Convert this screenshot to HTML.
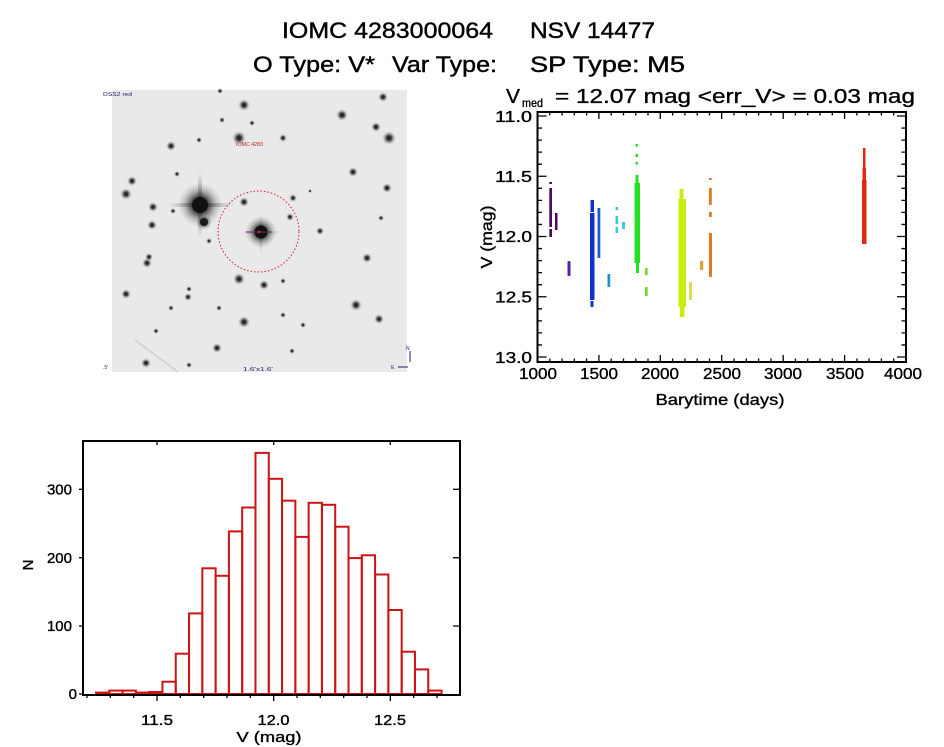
<!DOCTYPE html>
<html><head><meta charset="utf-8"><style>
html,body{margin:0;padding:0;background:#fff;}
svg{display:block;font-family:"Liberation Sans",sans-serif;}
</style></head><body>
<svg width="944" height="747" viewBox="0 0 944 747" xmlns="http://www.w3.org/2000/svg">
<defs>
<radialGradient id="g">
<stop offset="0" stop-color="#111" stop-opacity="1"/>
<stop offset="0.35" stop-color="#222" stop-opacity="0.85"/>
<stop offset="0.7" stop-color="#666" stop-opacity="0.35"/>
<stop offset="1" stop-color="#999" stop-opacity="0"/>
</radialGradient>
<linearGradient id="sh" x1="0" x2="1" y1="0" y2="0">
<stop offset="0" stop-color="#888" stop-opacity="0"/>
<stop offset="0.5" stop-color="#333" stop-opacity="0.8"/>
<stop offset="1" stop-color="#888" stop-opacity="0"/>
</linearGradient>
<linearGradient id="sv" x1="0" x2="0" y1="0" y2="1">
<stop offset="0" stop-color="#888" stop-opacity="0"/>
<stop offset="0.5" stop-color="#333" stop-opacity="0.8"/>
<stop offset="1" stop-color="#888" stop-opacity="0"/>
</linearGradient>
</defs>
<rect width="944" height="747" fill="#fff"/>

<!-- Titles -->
<g fill="#000" font-size="22" stroke="#000" stroke-width="0.4">
<text x="282" y="38" textLength="211" lengthAdjust="spacingAndGlyphs">IOMC 4283000064</text>
<text x="530" y="38" textLength="125" lengthAdjust="spacingAndGlyphs">NSV 14477</text>
<text x="253" y="72" textLength="122" lengthAdjust="spacingAndGlyphs">O Type: V*</text>
<text x="392" y="72" textLength="105" lengthAdjust="spacingAndGlyphs">Var Type:</text>
<text x="530" y="72" textLength="155" lengthAdjust="spacingAndGlyphs">SP Type: M5</text>
</g>

<!-- Star image -->
<g>
<rect x="112" y="90" width="295" height="282" fill="#e9e9e9"/>
<line x1="135" y1="340" x2="178" y2="372" stroke="#d0d0d0" stroke-width="1.5"/>
<g fill="url(#g)">
<circle cx="244" cy="105" r="6"/><circle cx="342" cy="115" r="6"/><circle cx="383" cy="97" r="5"/>
<circle cx="376" cy="127" r="5"/><circle cx="389" cy="138" r="7"/><circle cx="239" cy="138" r="7"/>
<circle cx="171" cy="146" r="5"/><circle cx="283" cy="138" r="4"/><circle cx="132" cy="181" r="5"/>
<circle cx="126" cy="194" r="6"/><circle cx="153" cy="207" r="5"/><circle cx="152" cy="225" r="5"/>
<circle cx="353" cy="172" r="5"/><circle cx="387" cy="188" r="5"/><circle cx="244" cy="202" r="5"/>
<circle cx="293" cy="198" r="4"/><circle cx="290" cy="217" r="4"/><circle cx="320" cy="231" r="4"/>
<circle cx="381" cy="218" r="3"/><circle cx="367" cy="258" r="5"/><circle cx="147" cy="263" r="5"/>
<circle cx="149" cy="257" r="4"/><circle cx="239" cy="279" r="6"/><circle cx="264" cy="285" r="5"/>
<circle cx="283" cy="281" r="3"/><circle cx="126" cy="294" r="5"/><circle cx="188" cy="297" r="4"/>
<circle cx="189" cy="289" r="3"/><circle cx="171" cy="308" r="3"/><circle cx="219" cy="308" r="3"/>
<circle cx="356" cy="305" r="6"/><circle cx="379" cy="319" r="5"/><circle cx="244" cy="322" r="6"/>
<circle cx="303" cy="325" r="3"/><circle cx="283" cy="315" r="3"/><circle cx="156" cy="331" r="3"/>
<circle cx="217" cy="348" r="5"/><circle cx="292" cy="351" r="3"/><circle cx="146" cy="363" r="5"/>
<circle cx="189" cy="365" r="3"/><circle cx="173" cy="211" r="3"/><circle cx="209" cy="241" r="3"/>
<circle cx="199" cy="140" r="3"/><circle cx="177" cy="174" r="3"/><circle cx="222" cy="120" r="3"/>
<circle cx="252" cy="123" r="3"/><circle cx="310" cy="191" r="2"/><circle cx="220" cy="91" r="3"/>
</g>
<!-- bright star -->
<rect x="168" y="203" width="66" height="4" fill="url(#sh)"/>
<rect x="198" y="172" width="4" height="66" fill="url(#sv)"/>
<circle cx="200" cy="205" r="22" fill="url(#g)"/>
<circle cx="200" cy="205" r="8" fill="#111"/>
<circle cx="204" cy="222" r="8" fill="url(#g)"/>
<circle cx="204" cy="222" r="4" fill="#1a1a1a"/>
<!-- target star -->
<rect x="240" y="231" width="42" height="3" fill="url(#sh)" opacity="0.5"/>
<rect x="259.5" y="212" width="3" height="42" fill="url(#sv)" opacity="0.5"/>
<circle cx="261" cy="232" r="16" fill="url(#g)"/>
<circle cx="261" cy="232" r="6.5" fill="#111"/>
<line x1="246" y1="232" x2="272" y2="232" stroke="#6a2a6a" stroke-width="1"/>
<circle cx="259" cy="232" r="1.2" fill="#d03030"/>
<circle cx="258.5" cy="231.5" r="40.5" fill="none" stroke="#d02020" stroke-width="1" stroke-dasharray="1.5 2"/>
<text x="236" y="146" font-size="5" fill="#c02020" textLength="27" lengthAdjust="spacingAndGlyphs">IOMC 4283</text>
<text x="103" y="96" font-size="5" fill="#20206a" textLength="29" lengthAdjust="spacingAndGlyphs">DSS2 red</text>
<text x="103" y="369" font-size="5" fill="#20206a">.5'</text>
<text x="243" y="371" font-size="5" fill="#20206a" textLength="30" lengthAdjust="spacingAndGlyphs">1.6'x1.6'</text>
<text x="406" y="350" font-size="5" fill="#20206a">N</text>
<line x1="410" y1="351" x2="410" y2="362" stroke="#20206a" stroke-width="1"/>
<line x1="398" y1="367" x2="408" y2="367" stroke="#20206a" stroke-width="1"/>
<text x="391" y="369" font-size="5" fill="#20206a">E</text>
</g>

<!-- Light curve -->
<g font-size="20" fill="#000" stroke="#000" stroke-width="0.35">
<text x="506" y="103" textLength="14" lengthAdjust="spacingAndGlyphs">V</text>
<text x="522" y="107" font-size="12" textLength="21" lengthAdjust="spacingAndGlyphs">med</text>
<text x="555" y="103" textLength="360" lengthAdjust="spacingAndGlyphs">= 12.07 mag &lt;err_V&gt; = 0.03 mag</text>
</g>
<!-- data -->
<g>
<g fill="#4b0d5e">
<rect x="549.3" y="182" width="2.7" height="2"/>
<rect x="549.3" y="188" width="2.7" height="39"/>
<rect x="549.3" y="229" width="2.7" height="8"/>
<rect x="555" y="213" width="2.5" height="17"/>
</g>
<rect x="567.5" y="261" width="3" height="15" rx="1" fill="#5422a8"/>
<g fill="#1030d0">
<rect x="590.5" y="200" width="3.5" height="12"/>
<rect x="590" y="213" width="4.5" height="87"/>
<rect x="590.5" y="301" width="3" height="6"/>
</g>
<rect x="597.5" y="208" width="2.8" height="50" fill="#2058d0"/>
<rect x="607.5" y="274" width="2.7" height="13" fill="#2090d0"/>
<g fill="#40c4e0">
<rect x="615.5" y="207" width="2.6" height="3"/>
<rect x="615.5" y="216" width="2.6" height="8"/>
<rect x="615.5" y="227" width="2.6" height="6"/>
<rect x="622" y="222" width="3" height="7"/>
</g>
<g fill="#24e024">
<rect x="635.5" y="144" width="2.5" height="2.5"/>
<rect x="635.5" y="154" width="2.5" height="3"/>
<rect x="635.5" y="162" width="2.5" height="2.5"/>
<rect x="635.5" y="175" width="3" height="8"/>
<rect x="634.5" y="183" width="5.5" height="80"/>
<rect x="636" y="263" width="3" height="10"/>
</g>
<g fill="#78d830">
<rect x="645" y="268" width="2.7" height="7"/>
<rect x="645" y="287" width="2.7" height="9"/>
</g>
<g fill="#c4f010">
<rect x="679.5" y="189" width="4" height="10"/>
<rect x="678.5" y="199" width="7.5" height="108"/>
<rect x="680" y="307" width="4.5" height="10"/>
</g>
<rect x="689" y="282" width="3" height="18" fill="#d8e050"/>
<rect x="700" y="261" width="3.2" height="9" fill="#e0a030"/>
<g fill="#e07a20">
<rect x="709" y="178" width="2.8" height="2"/>
<rect x="709" y="188" width="2.8" height="17"/>
<rect x="709" y="212" width="2.8" height="5"/>
<rect x="709" y="233" width="3" height="44"/>
</g>
<g fill="#e02810">
<rect x="863" y="148" width="2.5" height="20"/>
<rect x="862.5" y="168" width="3.5" height="12"/>
<rect x="862" y="180" width="4.5" height="64"/>
</g>
</g>
<!-- frame and ticks -->
<rect x="537.5" y="112" width="368.5" height="250" fill="none" stroke="#000" stroke-width="2"/>
<path stroke="#000" stroke-width="1.3" fill="none" d="
M598.9 362v-7M660.3 362v-7M721.7 362v-7M783.2 362v-7M844.6 362v-7
M598.9 112v7M660.3 112v7M721.7 112v7M783.2 112v7M844.6 112v7
M549.8 362v-3.5M562.1 362v-3.5M574.3 362v-3.5M586.6 362v-3.5M611.2 362v-3.5M623.5 362v-3.5M635.8 362v-3.5M648 362v-3.5M672.6 362v-3.5M684.9 362v-3.5M697.2 362v-3.5M709.5 362v-3.5M734 362v-3.5M746.3 362v-3.5M758.6 362v-3.5M770.9 362v-3.5M795.4 362v-3.5M807.7 362v-3.5M820 362v-3.5M832.3 362v-3.5M856.9 362v-3.5M869.1 362v-3.5M881.4 362v-3.5M893.7 362v-3.5
M549.8 112v3.5M562.1 112v3.5M574.3 112v3.5M586.6 112v3.5M611.2 112v3.5M623.5 112v3.5M635.8 112v3.5M648 112v3.5M672.6 112v3.5M684.9 112v3.5M697.2 112v3.5M709.5 112v3.5M734 112v3.5M746.3 112v3.5M758.6 112v3.5M770.9 112v3.5M795.4 112v3.5M807.7 112v3.5M820 112v3.5M832.3 112v3.5M856.9 112v3.5M869.1 112v3.5M881.4 112v3.5M893.7 112v3.5
M537.5 116h9M537.5 176.25h9M537.5 236.5h9M537.5 296.75h9M537.5 357h9
M906 116h-9M906 176.25h-9M906 236.5h-9M906 296.75h-9M906 357h-9
M537.5 128.05h4.5M537.5 140.1h4.5M537.5 152.15h4.5M537.5 164.2h4.5M537.5 188.3h4.5M537.5 200.35h4.5M537.5 212.4h4.5M537.5 224.45h4.5M537.5 248.55h4.5M537.5 260.6h4.5M537.5 272.65h4.5M537.5 284.7h4.5M537.5 308.8h4.5M537.5 320.85h4.5M537.5 332.9h4.5M537.5 344.95h4.5
M906 128.05h-4.5M906 140.1h-4.5M906 152.15h-4.5M906 164.2h-4.5M906 188.3h-4.5M906 200.35h-4.5M906 212.4h-4.5M906 224.45h-4.5M906 248.55h-4.5M906 260.6h-4.5M906 272.65h-4.5M906 284.7h-4.5M906 308.8h-4.5M906 320.85h-4.5M906 332.9h-4.5M906 344.95h-4.5
"/>
<g font-size="16" fill="#000" text-anchor="middle" stroke="#000" stroke-width="0.35">
<text x="538" y="379" textLength="38" lengthAdjust="spacingAndGlyphs">1000</text>
<text x="599" y="379" textLength="38" lengthAdjust="spacingAndGlyphs">1500</text>
<text x="660" y="379" textLength="38" lengthAdjust="spacingAndGlyphs">2000</text>
<text x="722" y="379" textLength="38" lengthAdjust="spacingAndGlyphs">2500</text>
<text x="783" y="379" textLength="38" lengthAdjust="spacingAndGlyphs">3000</text>
<text x="845" y="379" textLength="38" lengthAdjust="spacingAndGlyphs">3500</text>
<text x="903" y="379" textLength="38" lengthAdjust="spacingAndGlyphs">4000</text>
<text x="720" y="405" textLength="129" lengthAdjust="spacingAndGlyphs">Barytime (days)</text>
</g>
<g font-size="16" fill="#000" text-anchor="end" stroke="#000" stroke-width="0.35">
<text x="532" y="122" textLength="37" lengthAdjust="spacingAndGlyphs">11.0</text>
<text x="532" y="182" textLength="37" lengthAdjust="spacingAndGlyphs">11.5</text>
<text x="532" y="242" textLength="37" lengthAdjust="spacingAndGlyphs">12.0</text>
<text x="532" y="302.5" textLength="37" lengthAdjust="spacingAndGlyphs">12.5</text>
<text x="532" y="363" textLength="37" lengthAdjust="spacingAndGlyphs">13.0</text>
</g>
<text transform="translate(492,237) rotate(-90)" font-size="16" text-anchor="middle" fill="#000" stroke="#000" stroke-width="0.35" textLength="63" lengthAdjust="spacingAndGlyphs">V (mag)</text>

<!-- Histogram -->
<g fill="none" stroke="#cc1414" stroke-width="2">
<rect x="96" y="692.6" width="13.29" height="1.4"/>
<rect x="109.29" y="690.6" width="13.29" height="3.4"/>
<rect x="122.58" y="690.6" width="13.29" height="3.4"/>
<rect x="135.87" y="692.6" width="13.29" height="1.4"/>
<rect x="149.16" y="692" width="13.29" height="2"/>
<rect x="162.45" y="681.7" width="13.29" height="12.3"/>
<rect x="175.74" y="653.7" width="13.29" height="40.3"/>
<rect x="189.03" y="613.4" width="13.29" height="80.6"/>
<rect x="202.32" y="568.3" width="13.29" height="125.7"/>
<rect x="215.61" y="575.8" width="13.29" height="118.2"/>
<rect x="228.9" y="531.4" width="13.29" height="162.6"/>
<rect x="242.19" y="507.5" width="13.29" height="186.5"/>
<rect x="255.48" y="452.9" width="13.29" height="241.1"/>
<rect x="268.77" y="478.8" width="13.29" height="215.2"/>
<rect x="282.06" y="500.7" width="13.29" height="193.3"/>
<rect x="295.35" y="536.9" width="13.29" height="157.1"/>
<rect x="308.64" y="502.8" width="13.29" height="191.2"/>
<rect x="321.93" y="504.8" width="13.29" height="189.2"/>
<rect x="335.22" y="526.7" width="13.29" height="167.3"/>
<rect x="348.51" y="558.1" width="13.29" height="135.9"/>
<rect x="361.8" y="555.3" width="13.29" height="138.7"/>
<rect x="375.09" y="574.5" width="13.29" height="119.5"/>
<rect x="388.38" y="610" width="13.29" height="84"/>
<rect x="401.67" y="651.7" width="13.29" height="42.3"/>
<rect x="414.96" y="669.4" width="13.29" height="24.6"/>
<rect x="428.25" y="690.6" width="13.29" height="3.4"/>
</g>
<rect x="83" y="441" width="377" height="254" fill="none" stroke="#000" stroke-width="2"/>
<path stroke="#000" stroke-width="1.3" fill="none" d="
M157 695v6M273.7 695v6M390.3 695v6
M87 695v3M110.3 695v3M133.7 695v3M180.3 695v3M203.7 695v3M227 695v3M250.3 695v3M297 695v3M320.3 695v3M343.7 695v3M367 695v3M413.7 695v3M437 695v3
M157 441v4M273.7 441v4M390.3 441v4
M460 626h-7M460 557.7h-7M460 489.3h-7
M83 694h-4M83 626h-4M83 557.7h-4M83 489.3h-4
"/>
<g font-size="15" fill="#000" text-anchor="middle" stroke="#000" stroke-width="0.35">
<text x="157" y="725" textLength="32" lengthAdjust="spacingAndGlyphs">11.5</text>
<text x="273.5" y="725" textLength="32" lengthAdjust="spacingAndGlyphs">12.0</text>
<text x="390" y="725" textLength="32" lengthAdjust="spacingAndGlyphs">12.5</text>
<text x="269" y="742" textLength="65" lengthAdjust="spacingAndGlyphs">V (mag)</text>
</g>
<g font-size="15" fill="#000" text-anchor="end" stroke="#000" stroke-width="0.35">
<text x="72" y="494.5">300</text>
<text x="72" y="563">200</text>
<text x="72" y="631">100</text>
<text x="77" y="699">0</text>
</g>
<text transform="translate(33,565) rotate(-90)" font-size="15" text-anchor="middle" fill="#000" stroke="#000" stroke-width="0.35">N</text>
</svg>
</body></html>
